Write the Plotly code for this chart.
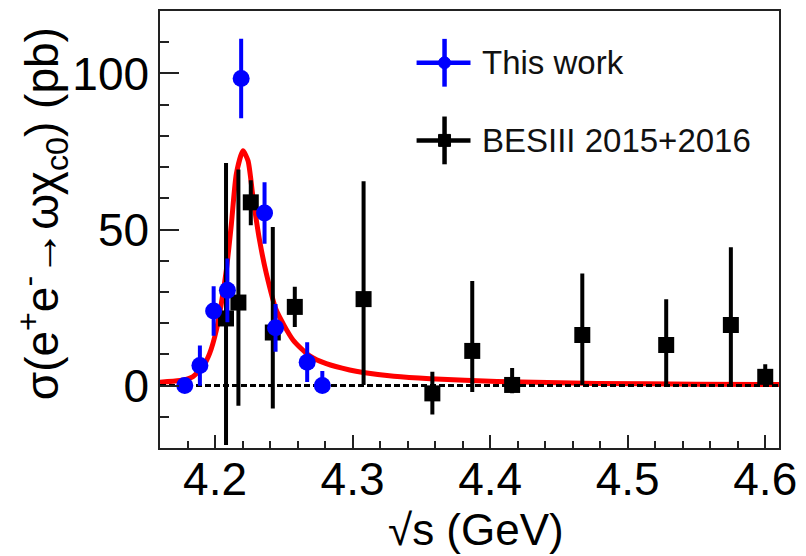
import plotly.graph_objects as go

# ---------------- data ----------------
X_RANGE = [4.16, 4.61]
Y_RANGE = [-20, 120]
x_tickvals = [4.2, 4.3, 4.4, 4.5, 4.6]
x_ticktext = ["4.2", "4.3", "4.4", "4.5", "4.6"]
y_tickvals = [0, 50, 100]
y_ticktext = ["0", "50", "100"]

# This work (blue)
tw_x = [4.178, 4.189, 4.199, 4.209, 4.219, 4.236, 4.244, 4.267, 4.278]
tw_y = [0.0, 6.4, 23.9, 30.5, 98.4, 55.3, 18.5, 7.5, 0.0]
tw_up = [0.0, 5.8, 7.3, 9.6, 12.1, 9.2, 7.0, 5.7, 4.0]
tw_dn = [0.0, 5.8, 7.3, 9.6, 12.1, 9.2, 7.0, 5.7, 0.0]

# BESIII 2015+2016 (black)
be_x = [4.208, 4.217, 4.226, 4.242, 4.258, 4.308, 4.358, 4.387, 4.416, 4.467, 4.528, 4.575, 4.600]
be_y = [21.5, 26.6, 58.7, 17.0, 25.2, 27.7, -2.5, 11.1, 0.2, 16.2, 13.0, 19.4, 2.8]
be_up = [49.2, 42.0, 6.4, 33.2, 5.8, 37.1, 6.3, 21.8, 4.8, 19.1, 14.0, 24.3, 3.4]
be_dn = [39.9, 32.4, 6.7, 23.7, 5.8, 26.9, 6.1, 12.5, 2.0, 15.4, 12.2, 19.2, 2.5]

# Fit curve
fit_x = [4.160, 4.1745, 4.184, 4.1913, 4.1961, 4.201, 4.2046, 4.2082, 4.2119, 4.2155,
         4.2203, 4.224, 4.2276, 4.2324, 4.2373, 4.2445, 4.2567, 4.2688, 4.2809, 4.2979,
         4.3078, 4.330, 4.3564, 4.405, 4.4777, 4.55, 4.61]
fit_y = [1.1, 1.6, 2.9, 6.1, 10.3, 17.8, 26.3, 36.9, 51.8, 67.8,
         75.2, 72.0, 60.3, 46.5, 35.9, 24.2, 14.6, 9.5, 7.0, 5.0,
         4.2, 3.0, 2.2, 1.3, 0.7, 0.45, 0.35]

legend_labels = ["This work", "BESIII 2015+2016"]
x_title = "√s (GeV)"
y_title = "σ(e<sup>+</sup>e<sup>-</sup>→ωχ<sub>c0</sub>) (pb)"

# ---------------- layout geometry ----------------
W, H = 806, 556
ML, MR, MT, MB = 160, 26, 9, 108
PW, PH = W - ML - MR, H - MT - MB
FONT = "Liberation Sans, Arial, Helvetica, sans-serif"


def px_x(p):
    return (p - ML) / PW


def px_y(p):
    return (H - MB - p) / PH


fig = go.Figure()

fig.add_trace(go.Scatter(x=fit_x, y=fit_y, mode="lines",
                         line=dict(color="#ff0000", width=5, shape="spline", smoothing=0.6),
                         showlegend=False, hoverinfo="skip"))

fig.add_trace(go.Scatter(x=X_RANGE, y=[0, 0], mode="lines",
                         line=dict(color="black", width=3, dash="6px,3px"),
                         showlegend=False, hoverinfo="skip"))

fig.add_trace(go.Scatter(x=be_x, y=be_y, mode="markers",
                         marker=dict(symbol="square", size=16, color="black"),
                         error_y=dict(type="data", symmetric=False, array=be_up, arrayminus=be_dn,
                                      color="black", thickness=4, width=2),
                         name=legend_labels[1], showlegend=False))

fig.add_trace(go.Scatter(x=tw_x, y=tw_y, mode="markers",
                         marker=dict(symbol="circle", size=17, color="#0000ff"),
                         error_y=dict(type="data", symmetric=False, array=tw_up, arrayminus=tw_dn,
                                      color="#0000ff", thickness=4, width=2),
                         name=legend_labels[0], showlegend=False))

# ---------------- manual legend ----------------
shapes = []
annotations = []
entries = [(61, "#0000ff", "circle", legend_labels[0]),
           (139, "black", "square", legend_labels[1])]
cx = 445
for cy, col, sym, lab in entries:
    shapes.append(dict(type="line", xref="paper", yref="paper",
                       x0=px_x(417), x1=px_x(471), y0=px_y(cy), y1=px_y(cy),
                       line=dict(color=col, width=4.5)))
    shapes.append(dict(type="line", xref="paper", yref="paper",
                       x0=px_x(cx), x1=px_x(cx), y0=px_y(cy - 24), y1=px_y(cy + 24),
                       line=dict(color=col, width=4.5)))
    r = 6
    shapes.append(dict(type="circle" if sym == "circle" else "rect", xref="paper", yref="paper",
                       x0=px_x(cx - r), x1=px_x(cx + r), y0=px_y(cy + r), y1=px_y(cy - r),
                       fillcolor=col, line=dict(color=col, width=1)))
    annotations.append(dict(xref="paper", yref="paper", x=px_x(481), y=px_y(cy),
                            xanchor="left", yanchor="middle", showarrow=False, text=lab,
                            font=dict(family=FONT, size=33, color="#111")))

# axis titles as annotations for precise placement
annotations.append(dict(xref="paper", yref="paper", x=px_x(42), y=px_y(213),
                        xanchor="center", yanchor="middle", textangle=-90, showarrow=False,
                        text=y_title, font=dict(family=FONT, size=46, color="black")))
annotations.append(dict(xref="paper", yref="paper", x=px_x(477), y=px_y(556),
                        xanchor="center", yanchor="bottom", showarrow=False,
                        text=x_title, font=dict(family=FONT, size=44, color="black")))

fig.update_layout(
    width=W, height=H,
    margin=dict(l=ML, r=MR, t=MT, b=MB, pad=0),
    paper_bgcolor="white", plot_bgcolor="white",
    shapes=shapes, annotations=annotations,
    font=dict(family=FONT, color="black"),
    xaxis=dict(range=X_RANGE, tickvals=x_tickvals, ticktext=x_ticktext,
               ticks="inside", ticklen=13, tickwidth=1.5, tickcolor="#222",
               ticklabelstandoff=-10,
               showline=True, mirror=True, linecolor="#222", linewidth=1.5,
               showgrid=False, zeroline=False,
               tickfont=dict(family=FONT, size=46, color="black"),
               minor=dict(dtick=0.02, tick0=4.2, ticks="inside", ticklen=7, tickwidth=1.5, tickcolor="#222")),
    yaxis=dict(range=Y_RANGE, tickvals=y_tickvals, ticktext=y_ticktext,
               ticks="inside", ticklen=19, tickwidth=1.5, tickcolor="#222",
               showline=True, mirror=True, linecolor="#222", linewidth=1.5,
               showgrid=False, zeroline=False,
               tickfont=dict(family=FONT, size=46, color="black"),
               minor=dict(dtick=10, tick0=0, ticks="inside", ticklen=9, tickwidth=1.5, tickcolor="#222")),
)

fig.write_html("out.html")
